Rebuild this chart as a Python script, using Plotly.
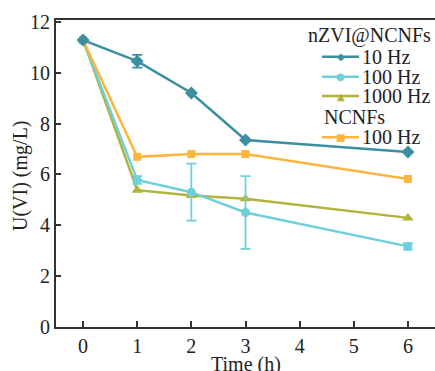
import plotly.graph_objects as go

time_h = [0, 1, 2, 3, 6]
hz10 = [11.28, 10.45, 9.2, 7.35, 6.88]
hz10_err = [0.0, 0.25, 0.0, 0.0, 0.0]
hz100 = [11.28, 5.78, 5.3, 4.5, 3.17]
hz100_err = [0.0, 0.15, 1.12, 1.43, 0.13]
hz1000 = [11.28, 5.38, 5.17, 5.04, 4.29]
ncnf100 = [11.28, 6.69, 6.8, 6.8, 5.82]

x_ticks = [0, 1, 2, 3, 4, 5, 6]
y_ticks = [0, 2, 4, 6, 8, 10, 12]

C_TEAL = "#3A8FA3"
C_CYAN = "#6FD0DC"
C_OLIVE = "#B3B23A"
C_ORANGE = "#FDB53F"
FONT = "Liberation Serif"
TXT = "#222"

fig = go.Figure()

def add(y, color, symbol, err=None, size=9):
    kw = {}
    if err is not None:
        kw["error_y"] = dict(type="data", array=err, visible=True, color=color,
                             thickness=1.8, width=5)
    fig.add_trace(go.Scatter(x=time_h, y=y, mode="lines+markers",
                             line=dict(color=color, width=2.5),
                             marker=dict(color=color, symbol=symbol, size=size),
                             showlegend=False, **kw))

add(hz1000, C_OLIVE, "triangle-up", size=10)
add(hz100, C_CYAN, "circle", err=hz100_err)
add(ncnf100, C_ORANGE, "square", size=8)
add(hz10, C_TEAL, "diamond", err=hz10_err, size=10)

# manual legend
def px2paper_x(px):
    return (px - 56) / 379.0

def py2paper_y(py):
    return (327 - py) / 307.0

legend_rows = [
    ("10 Hz", C_TEAL, "◆", 56.7),
    ("100 Hz", C_CYAN, "●", 76.7),
    ("1000 Hz", C_OLIVE, "▲", 96.0),
    ("100 Hz", C_ORANGE, "■", 137.3),
]
for label, color, glyph, py in legend_rows:
    yp = py2paper_y(py)
    fig.add_shape(type="line", xref="paper", yref="paper",
                  x0=px2paper_x(322), x1=px2paper_x(359), y0=yp, y1=yp,
                  line=dict(color=color, width=2.5))
    fig.add_annotation(xref="paper", yref="paper", x=px2paper_x(340.5), y=yp,
                       text=glyph, showarrow=False, xanchor="center", yanchor="middle",
                       font=dict(family="DejaVu Sans", size=10, color=color))
    fig.add_annotation(xref="paper", yref="paper", x=px2paper_x(360), y=yp,
                       text=label, showarrow=False, xanchor="left", yanchor="middle",
                       font=dict(family=FONT, size=20, color=TXT))

fig.add_annotation(xref="paper", yref="paper", x=px2paper_x(306), y=py2paper_y(35),
                   text="nZVI@NCNFs", showarrow=False, xanchor="left", yanchor="middle",
                   font=dict(family=FONT, size=20, color=TXT))
fig.add_annotation(xref="paper", yref="paper", x=px2paper_x(322), y=py2paper_y(116.7),
                   text="NCNFs", showarrow=False, xanchor="left", yanchor="middle",
                   font=dict(family=FONT, size=20, color=TXT))

# axis titles as annotations for exact placement
fig.add_annotation(xref="paper", yref="paper", x=0.5, y=py2paper_y(364),
                   text="Time (h)", showarrow=False, xanchor="center", yanchor="middle",
                   font=dict(family=FONT, size=20, color=TXT))
fig.add_annotation(xref="paper", yref="paper", x=px2paper_x(20), y=py2paper_y(176),
                   text="U(VI) (mg/L)", showarrow=False, xanchor="center", yanchor="middle",
                   textangle=-90, font=dict(family=FONT, size=20, color=TXT))

fig.update_layout(
    width=435, height=371,
    margin=dict(l=56, r=0, t=20, b=44),
    paper_bgcolor="white", plot_bgcolor="white",
    font=dict(family=FONT, size=20, color=TXT),
    xaxis=dict(range=[-0.5, 6.5], tickvals=x_ticks, ticks="inside", ticklen=6,
               tickwidth=1.5, tickcolor="#333", showgrid=False, zeroline=False,
               showline=True, linecolor="#333", linewidth=2, mirror=True,
               automargin=False,
               tickfont=dict(family=FONT, size=20, color=TXT)),
    yaxis=dict(range=[0, 12.07], tickvals=y_ticks, ticks="inside", ticklen=5,
               tickwidth=1.5, tickcolor="#333", showgrid=False, zeroline=False,
               showline=True, linecolor="#333", linewidth=2, mirror=True,
               automargin=False,
               tickfont=dict(family=FONT, size=20, color=TXT)),
)

fig.write_html("out.html", config={"displayModeBar": False},
               post_script="document.body.style.margin='0';")
